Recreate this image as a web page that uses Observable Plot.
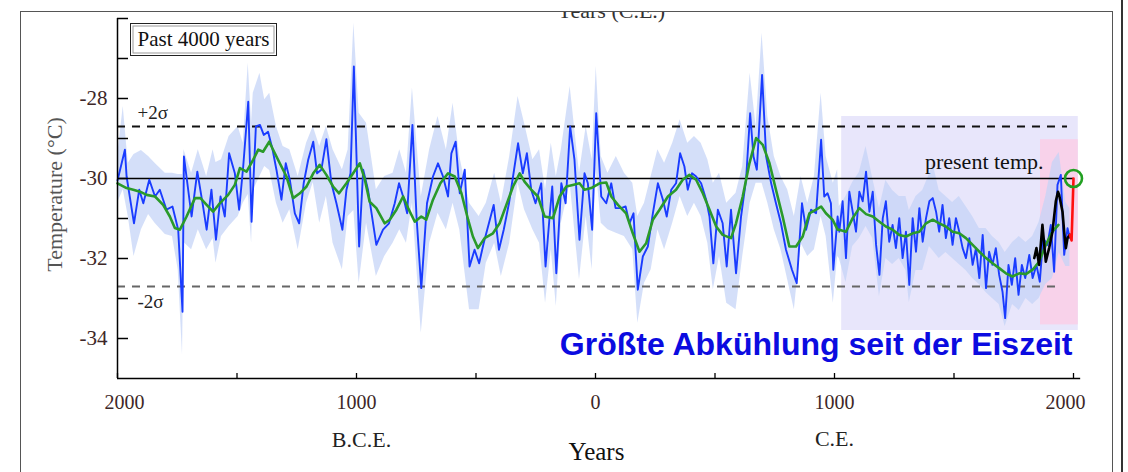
<!DOCTYPE html>
<html><head><meta charset="utf-8">
<script src="https://cdn.jsdelivr.net/npm/d3@7"></script>
<script src="https://cdn.jsdelivr.net/npm/@observablehq/plot@0.6"></script>
<style>
html,body{margin:0;padding:0;background:#fff;}
#wrap{position:relative;width:1128px;height:472px;overflow:hidden;background:#fff;font-family:"Liberation Serif",serif;}
#chart{position:absolute;left:0;top:0;}
.ln{position:absolute;background:#555;}
#clipTitle{position:absolute;left:0;top:12px;width:1128px;height:12px;overflow:hidden;}
#clipTitle div{position:absolute;left:0;width:1222px;top:-12px;text-align:center;font-size:22px;line-height:22px;color:#333;}
#pastBox{position:absolute;left:130px;top:23px;width:147px;height:33px;box-sizing:border-box;border:1.5px solid #222;box-shadow:inset 0 0 0 1.5px #fff, inset 0 0 0 2.5px #9a9a9a;font-size:21px;line-height:30px;text-align:center;color:#111;background:#fff;}
</style></head>
<body>
<div id="wrap">
  <div id="chart"></div>
  <div id="clipTitle"><div>Years (C.E.)</div></div>
  <div class="ln" style="left:20px;top:11px;width:1093px;height:1.3px;"></div>
  <div class="ln" style="left:20px;top:11px;width:1.3px;height:461px;"></div>
  <div class="ln" style="left:1112px;top:11px;width:1.3px;height:461px;"></div>
  <div class="ln" style="left:1121px;top:0px;width:1.6px;height:472px;background:#333;"></div>
  <div id="pastBox">Past 4000 years</div>
</div>
<script>
// ---------- data (year, temperature °C) ----------
const blueA = [[-2000,-30.05],[-1969,-29.28],[-1962,-29.95],[-1931,-31.12],[-1909,-30.28],[-1892,-30.62],[-1867,-30.03],[-1843,-30.45],[-1823,-30.28],[-1795,-30.78],
[-1770,-30.70],[-1746,-31.28],[-1728,-33.33],[-1722,-29.45],[-1690,-30.95],[-1666,-29.83],[-1644,-30.62],[-1627,-31.28],[-1607,-30.28],[-1588,-31.53],
[-1569,-30.45],[-1551,-30.95],[-1533,-29.37],[-1509,-29.87],[-1491,-30.78],[-1474,-29.70],[-1453,-28.08],[-1439,-31.08],[-1421,-28.70],[-1404,-28.66],
[-1388,-28.91],[-1370,-28.83],[-1351,-29.28],[-1335,-29.78],[-1314,-30.53],[-1296,-29.62],[-1279,-30.03],[-1258,-30.87],[-1240,-31.12],[-1221,-30.12],
[-1202,-29.53],[-1181,-29.08],[-1165,-29.87],[-1147,-29.78],[-1126,-29.02],[-1105,-30.12],[-1084,-30.62],[-1059,-31.28],[-1042,-30.28],[-1025,-29.87],[-1011,-27.20]];
const blueB = [[-989,-31.70],[-972,-29.78],[-952,-30.28],[-917,-31.66],[-889,-31.28],[-864,-31.12],[-840,-30.62],[-822,-30.12],[-805,-30.45],[-788,-30.87],
[-766,-28.66],[-749,-30.95],[-729,-32.74],[-705,-30.62],[-680,-29.95],[-659,-29.62],[-638,-29.95],[-617,-30.45],[-603,-29.37],[-585,-29.08],
[-568,-30.37],[-547,-29.78],[-527,-32.20],[-506,-31.78],[-487,-32.12],[-468,-31.62],[-446,-31.12],[-426,-30.66],[-404,-31.78],[-384,-31.28],
[-362,-30.62],[-345,-29.95],[-324,-29.12],[-304,-29.87],[-287,-29.37],[-269,-30.28],[-251,-30.62],[-227,-30.12],[-209,-32.20],[-192,-30.95],
[-181,-30.20],[-164,-32.37],[-143,-30.12],[-125,-30.62],[-106,-28.70],[-88,-29.53],[-67,-31.53],[-46,-29.87],[-32,-30.12],[-14,-31.28],[3,-28.37]];
const blueC = [[24,-30.45],[45,-30.62],[66,-30.12],[84,-30.74],[107,-30.74],[126,-30.70],[142,-31.12],[159,-30.87],[177,-32.78],[198,-31.95],
[219,-31.70],[240,-30.87],[261,-30.12],[282,-30.53],[298,-30.95],[317,-30.28],[337,-30.12],[354,-29.37],[372,-29.70],[386,-30.28],
[404,-29.87],[421,-29.95],[442,-30.12],[463,-30.53],[477,-30.95],[493,-32.12],[512,-30.78],[532,-31.12],[549,-32.20],[567,-30.78],
[588,-32.37],[609,-30.95],[630,-30.03],[647,-28.37],[661,-29.45],[675,-29.78],[697,-27.41],[714,-29.45],[735,-30.12],[755,-30.62],
[776,-31.12],[797,-31.78],[822,-32.28],[842,-32.62],[864,-30.62],[881,-31.28],[902,-30.78],[923,-30.87],[944,-29.03],[957,-30.45],
[971,-30.37],[985,-30.62],[995,-32.28],[1013,-30.95]];
const blueD = [[1020,-31.33],[1034,-30.57],[1048,-31.99],[1062,-30.33],[1076,-30.83],[1090,-31.33],[1104,-30.33],[1118,-30.57],[1132,-29.83],[1146,-30.83],
[1160,-30.33],[1174,-31.66],[1188,-32.41],[1202,-30.99],[1215,-30.57],[1229,-31.58],[1243,-31.16],[1257,-31.74],[1271,-30.99],[1285,-31.99],
[1299,-31.33],[1313,-32.66],[1327,-30.99],[1341,-31.83],[1355,-30.74],[1369,-31.58],[1383,-30.99],[1397,-30.57],[1411,-30.49],[1425,-30.83],
[1438,-31.33],[1452,-30.66],[1466,-31.49],[1480,-30.99],[1494,-31.66],[1508,-30.99],[1522,-31.33],[1536,-31.74],[1550,-31.99],[1564,-31.49],
[1578,-32.16],[1592,-31.74],[1606,-32.49],[1620,-31.41],[1634,-32.74],[1647,-31.83],[1661,-32.16],[1675,-31.74],[1689,-32.41],[1703,-32.83],
[1714,-33.49],[1728,-32.16],[1742,-32.66],[1756,-31.99],[1770,-32.91],[1784,-32.16],[1798,-32.49],[1815,-31.91],[1829,-32.49],[1845,-32.16],
[1859,-32.58],[1873,-31.49],[1891,-31.66],[1905,-31.16],[1919,-32.33],[1933,-30.16],[1947,-29.91],[1961,-31.91],[1975,-31.24],[1985,-31.49]];

// uncertainty band: [year, upper, lower]
const bandA = [[-2000,-29.45,-30.62],[-1976,-28.20,-30.28],[-1955,-29.62,-30.95],[-1931,-29.40,-31.95],[-1900,-29.30,-31.28],[-1870,-29.45,-30.90],
[-1843,-29.62,-31.12],[-1800,-29.87,-31.40],[-1770,-29.87,-31.45],[-1746,-29.90,-32.28],[-1728,-29.90,-34.41],[-1722,-29.28,-31.60],
[-1690,-29.87,-31.78],[-1662,-29.28,-31.28],[-1627,-29.95,-31.78],[-1600,-29.28,-31.50],[-1588,-29.60,-32.12],[-1565,-29.53,-31.45],
[-1533,-28.95,-31.20],[-1495,-28.70,-30.95],[-1474,-29.12,-30.62],[-1453,-27.12,-30.40],[-1439,-28.60,-31.62],[-1432,-27.87,-30.30],
[-1404,-27.37,-29.95],[-1384,-28.03,-29.70],[-1363,-27.87,-29.80],[-1335,-28.70,-30.62],[-1307,-29.20,-31.12],[-1279,-29.28,-30.78],
[-1244,-29.95,-31.78],[-1209,-29.12,-30.62],[-1181,-28.70,-30.10],[-1154,-29.20,-31.12],[-1126,-28.70,-30.45],[-1098,-29.28,-31.62],
[-1059,-29.78,-32.28],[-1035,-29.28,-30.95],[-1011,-26.12,-30.80]];
const bandB = [[-989,-28.37,-32.62],[-958,-28.62,-31.12],[-917,-30.28,-32.45],[-882,-29.95,-31.95],[-847,-29.87,-31.62],[-819,-29.28,-31.28],
[-791,-29.87,-31.62],[-766,-27.74,-30.62],[-729,-30.45,-33.87],[-694,-29.28,-31.62],[-659,-28.45,-30.87],[-624,-29.28,-31.28],
[-596,-28.12,-30.62],[-568,-29.45,-31.28],[-527,-30.62,-33.28],[-487,-30.95,-33.28],[-457,-30.62,-32.12],[-422,-29.87,-31.62],
[-394,-30.62,-32.45],[-359,-29.45,-31.62],[-324,-27.95,-30.12],[-297,-28.62,-30.78],[-262,-29.53,-31.28],[-234,-29.28,-31.62],
[-209,-30.28,-33.12],[-185,-29.12,-31.78],[-164,-29.95,-33.20],[-143,-29.28,-31.12],[-106,-27.70,-30.12],[-67,-29.87,-32.53],
[-39,-28.70,-30.95],[-14,-29.53,-32.28],[3,-27.20,-29.78]];
const bandC = [[24,-29.45,-31.12],[52,-29.87,-31.28],[87,-29.45,-31.37],[121,-29.87,-31.45],[156,-30.12,-31.78],[177,-30.95,-33.62],
[205,-30.62,-32.62],[233,-29.95,-32.28],[261,-29.28,-31.28],[289,-29.62,-31.78],[323,-29.12,-31.12],[354,-28.53,-30.45],
[386,-29.12,-30.95],[414,-28.95,-30.62],[442,-29.12,-30.95],[470,-29.53,-31.62],[493,-30.12,-32.78],[519,-29.87,-31.95],
[549,-30.62,-33.12],[588,-30.37,-33.28],[616,-29.70,-31.95],[647,-27.37,-30.62],[672,-28.70,-30.12],[697,-26.37,-30.12],
[721,-28.45,-30.62],[748,-29.45,-31.28],[776,-29.95,-31.78],[804,-30.28,-32.53],[832,-30.95,-33.28],[860,-29.95,-31.62],
[888,-30.62,-31.95],[916,-29.95,-31.78],[944,-27.87,-30.95],[965,-29.45,-31.45],[995,-30.12,-33.12],[1013,-29.78,-31.95]];
const bandD = [[1020,-30.70,-32.00],[1048,-30.45,-32.60],[1076,-30.10,-31.70],[1104,-29.85,-31.50],[1132,-29.20,-31.20],[1160,-30.00,-31.50],
[1188,-30.75,-32.95],[1215,-30.05,-32.00],[1243,-30.30,-32.15],[1271,-30.45,-32.00],[1299,-30.45,-32.30],[1313,-30.80,-33.10],
[1341,-30.45,-32.30],[1369,-30.30,-32.30],[1397,-29.90,-31.70],[1411,-29.60,-31.80],[1438,-30.30,-32.00],[1466,-30.45,-31.85],
[1494,-30.60,-32.00],[1522,-30.45,-32.15],[1550,-30.70,-32.30],[1578,-30.95,-32.50],[1606,-31.25,-32.65],[1634,-31.25,-32.85],
[1661,-31.45,-33.00],[1689,-31.60,-33.15],[1714,-31.85,-33.70],[1745,-31.60,-33.15],[1773,-31.45,-33.30],[1801,-31.60,-33.00],
[1829,-31.45,-33.15],[1856,-31.10,-33.00],[1884,-30.45,-32.65],[1912,-29.60,-32.50],[1940,-29.35,-31.85],[1968,-30.60,-32.20],[1985,-30.75,-32.20]];

// smoothed reconstruction
const greenA = [[-2000,-30.12],[-1962,-30.24],[-1934,-30.28],[-1906,-30.33],[-1878,-30.41],[-1843,-30.45],[-1809,-30.66],[-1781,-30.95],[-1760,-31.24],[-1739,-31.28],
[-1711,-30.95],[-1676,-30.49],[-1653,-30.49],[-1627,-30.66],[-1600,-30.83],[-1572,-30.62],[-1537,-30.41],[-1509,-30.16],[-1488,-29.74],[-1460,-29.83],
[-1432,-29.53],[-1411,-29.28],[-1391,-29.33],[-1365,-29.08],[-1349,-29.28],[-1321,-29.62],[-1293,-29.95],[-1265,-30.49],[-1237,-30.37],[-1209,-30.20],
[-1181,-29.87],[-1154,-29.66],[-1126,-29.91],[-1098,-30.20],[-1073,-30.37],[-1042,-30.12],[-1014,-29.87]];
const greenB = [[-986,-29.62],[-965,-30.03],[-945,-30.58],[-917,-30.74],[-882,-31.12],[-861,-31.03],[-833,-30.78],[-805,-30.45],[-784,-30.74],[-756,-31.08],
[-729,-30.95],[-708,-31.03],[-680,-30.53],[-649,-30.12],[-617,-29.87],[-589,-29.95],[-561,-30.37],[-533,-31.03],[-513,-31.45],[-492,-31.74],
[-464,-31.49],[-429,-31.37],[-401,-31.12],[-373,-30.66],[-345,-30.20],[-317,-29.87],[-297,-30.08],[-269,-30.28],[-241,-30.45],[-213,-30.95],
[-178,-30.99],[-150,-30.45],[-122,-30.20],[-95,-30.16],[-67,-30.12],[-46,-30.28],[-18,-30.24]];
const greenC = [[17,-30.12],[45,-30.10],[66,-30.45],[94,-30.66],[128,-30.87],[156,-31.37],[184,-31.83],[212,-31.62],[240,-31.03],[268,-30.78],
[303,-30.45],[337,-30.28],[365,-30.03],[393,-29.91],[421,-30.03],[449,-30.37],[477,-30.78],[505,-31.20],[532,-31.41],[567,-31.49],
[588,-31.12],[616,-30.45],[644,-29.62],[672,-28.99],[700,-29.16],[728,-29.62],[755,-30.28],[783,-30.95],[811,-31.70],[839,-31.70],
[867,-31.45],[895,-30.87],[923,-30.78],[944,-30.70],[964,-30.87],[992,-31.03],[1013,-31.28]];
const greenD = [[1020,-31.28],[1048,-31.33],[1076,-30.99],[1104,-30.74],[1132,-30.89],[1160,-30.95],[1188,-31.08],[1215,-31.20],[1243,-31.28],[1271,-31.41],
[1299,-31.45],[1327,-31.37],[1355,-31.33],[1383,-31.12],[1411,-31.03],[1438,-31.12],[1466,-31.20],[1494,-31.33],[1522,-31.37],[1550,-31.49],
[1578,-31.66],[1606,-31.83],[1634,-31.99],[1661,-32.12],[1689,-32.24],[1717,-32.37],[1745,-32.45],[1773,-32.37],[1801,-32.39],[1829,-32.28],
[1856,-32.08],[1884,-31.66],[1912,-31.33],[1937,-31.16]];

const instrumental = [[1836,-31.99],[1845,-31.74],[1856,-32.16],[1870,-31.16],[1884,-32.08],[1898,-31.74],[1912,-31.33],[1926,-30.57],[1935,-30.33],
[1940,-30.41],[1954,-30.83],[1962,-31.40],[1968,-31.74],[1975,-31.49],[1985,-31.41]];
const recent = [[1985,-31.41],[1992,-31.55],[2000,-30.0]];
const presentPoint = [[2000,-30.0]];

const presentTemp = -30;
const sigmaPlus = -28.7;
const sigmaMinus = -32.7;
const sigmaPlusEnd = 1975;
const sigmaMinusEnd = 1942;
// shaded periods [x1, x2, y1, y2]
const lavenderSpan = [[1030, 2020, -33.8, -28.45]];
const pinkSpan = [[1862, 2020, -33.66, -29.03]];

const xTickValues = [-2000,-1500,-1000,-500,0,500,1000,1500,2000];
const xLabelValues = [-2000,-1000,0,1000,2000];
const yTickValues = [-34,-33,-32,-31,-30,-29,-28,-27,-26];
const yLabelValues = [-34,-32,-30,-28];
const xDomain = [-2000, 2000];
const yDomain = [-35, -26];

// ---------- build ----------
const pts = a => a.map(([year, t]) => ({year, t}));
const blue = pts([...blueA, ...blueB, ...blueC, ...blueD]);
const green = pts([...greenA, ...greenB, ...greenC, ...greenD]);
const band = [...bandA, ...bandB, ...bandC, ...bandD].map(([year, hi, lo]) => ({year, hi, lo}));
const rects = a => a.map(([x1, x2, y1, y2]) => ({x1, x2, y1, y2}));

const serif = "Liberation Serif";
const tickColor = "#3d2727";

const chart = Plot.plot({
  width: 1128, height: 472,
  marginLeft: 117, marginRight: 55, marginTop: 18, marginBottom: 94,
  style: {background: "transparent", fontFamily: serif, overflow: "visible"},
  x: {domain: xDomain},
  y: {domain: yDomain},
  marks: [
    Plot.rect(rects(lavenderSpan), {x1: "x1", x2: "x2", y1: "y1", y2: "y2", fill: "#e8e6fb"}),
    Plot.rect(rects(pinkSpan), {x1: "x1", x2: "x2", y1: "y1", y2: "y2", fill: "#f8d2ea"}),
    Plot.areaY(band, {x: "year", y1: "lo", y2: "hi", fill: "#c4d3f7", fillOpacity: 0.72}),
    Plot.ruleY([sigmaPlus], {x1: xDomain[0], x2: sigmaPlusEnd, stroke: "#111", strokeWidth: 2, strokeDasharray: "8,7"}),
    Plot.ruleY([sigmaMinus], {x1: xDomain[0], x2: sigmaMinusEnd, stroke: "#666", strokeWidth: 2, strokeDasharray: "8,7"}),
    Plot.ruleY([presentTemp], {x1: xDomain[0], x2: xDomain[1], stroke: "#000", strokeWidth: 1.3}),
    Plot.line(blue, {x: "year", y: "t", stroke: "#1a3cff", strokeWidth: 1.9}),
    Plot.line(green, {x: "year", y: "t", stroke: "#2a9a2a", strokeWidth: 2.6}),
    Plot.line(pts(instrumental), {x: "year", y: "t", stroke: "#000", strokeWidth: 2.6}),
    Plot.line(pts(recent), {x: "year", y: "t", stroke: "#ff1010", strokeWidth: 2.6}),
    Plot.dot(pts(presentPoint), {x: "year", y: "t", r: 8.5, stroke: "#22a022", strokeWidth: 2.6, fill: "none"}),
    // axes
    Plot.ruleX([xDomain[0]], {y1: yDomain[0], y2: yDomain[1], stroke: "#000", strokeWidth: 1.5}),
    Plot.ruleY([yDomain[0]], {x1: xDomain[0], x2: 2030, stroke: "#000", strokeWidth: 1.5}),
    Plot.axisY(yTickValues, {tickSize: 11, dx: 11, fill: "none", stroke: "#000", strokeWidth: 1.5, label: null}),
    Plot.axisY(yLabelValues, {tickSize: 0, tickPadding: 10, stroke: "none", fill: tickColor, fontSize: 21, label: null, tickFormat: d => "-" + Math.abs(d)}),
    Plot.axisX(xTickValues, {tickSize: 5, dy: -5, fill: "none", stroke: "#000", strokeWidth: 1.3, label: null}),
    Plot.text(xLabelValues, {filter: d => d > -2000 && d < 2000, x: d => d, y: () => yDomain[0], text: d => String(Math.abs(d)), dy: 24, fontSize: 20, fill: tickColor}),
    Plot.text(xLabelValues, {filter: d => d === -2000, x: d => d, y: () => yDomain[0], text: d => String(Math.abs(d)), dy: 24, dx: 7, fontSize: 20, fill: tickColor}),
    Plot.text(xLabelValues, {filter: d => d === 2000, x: d => d, y: () => yDomain[0], text: d => String(Math.abs(d)), dy: 24, dx: -8, fontSize: 20, fill: tickColor}),
    Plot.text(["B.C.E."], {x: () => -1000, y: () => yDomain[0], text: d => d, dx: 5, dy: 61, fontSize: 22, fill: "#222"}),
    Plot.text(["C.E."], {x: () => 1000, y: () => yDomain[0], text: d => d, dy: 60, fontSize: 22, fill: "#222"}),
    Plot.text(["Years"], {x: () => 0, y: () => yDomain[0], text: d => d, dx: 1, dy: 73, fontSize: 25, fill: "#111"}),
    Plot.text(["Temperature (°C)"], {frameAnchor: "left", textAnchor: "middle", text: d => d, rotate: -90, dx: -63, dy: -4, fontSize: 22, fill: "#555"}),
    // annotations
    Plot.text(["+2σ"], {x: () => xDomain[0], y: () => sigmaPlus, text: d => d, textAnchor: "start", dx: 20, dy: -14, fontSize: 19, fill: "#222"}),
    Plot.text(["-2σ"], {x: () => xDomain[0], y: () => sigmaMinus, text: d => d, textAnchor: "start", dx: 20, dy: 15, fontSize: 19, fill: "#222"}),
    Plot.text(["present temp."], {x: () => 2000, y: () => presentTemp, text: d => d, textAnchor: "end", lineAnchor: "bottom", dx: -30, dy: -10, fontSize: 22, fill: "#111"}),
    Plot.text(["Größte Abkühlung seit der Eiszeit"], {x: () => 2000, y: () => yDomain[0], text: d => d, textAnchor: "end", lineAnchor: "bottom", dx: -1, dy: -24, fontSize: 32, fontWeight: "bold", fontFamily: "Liberation Sans", fill: "#0b0be0"})
  ]
});
document.getElementById("chart").appendChild(chart);
</script>
</body></html>
